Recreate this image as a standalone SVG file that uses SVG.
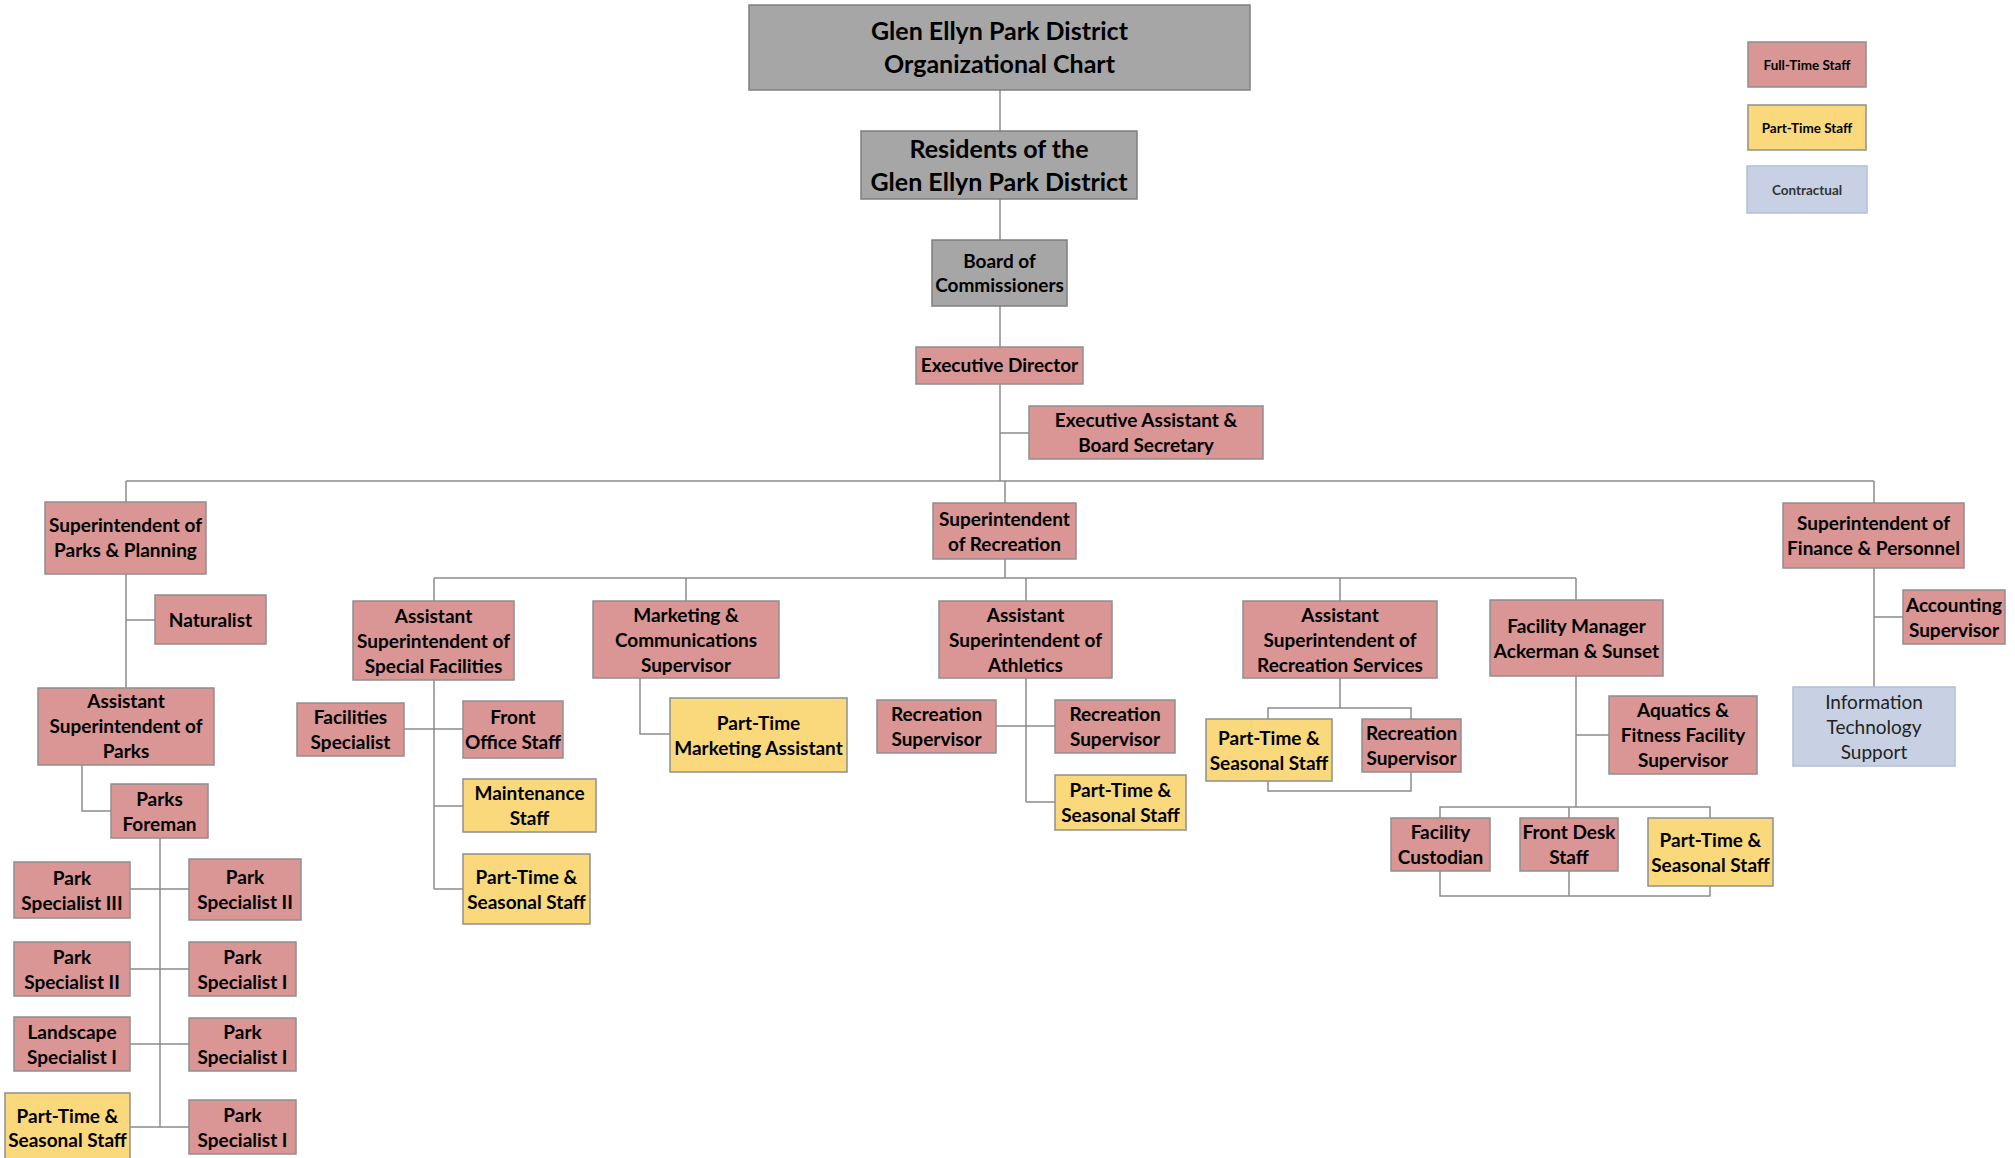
<svg xmlns="http://www.w3.org/2000/svg" width="2015" height="1158" viewBox="0 0 2015 1158">
<style>
.ft{fill:#d99694;stroke:#8f8f8f;stroke-width:1.5}
.pt{fill:#fad97c;stroke:#8f8f8f;stroke-width:1.5}
.gr{fill:#a6a6a6;stroke:#7f7f7f;stroke-width:1.5}
.ct{fill:#c7d1e3;stroke:#b3bfd3;stroke-width:1.5}
.t{font-family:Lato,"Liberation Sans",sans-serif;font-weight:bold;font-size:19px;fill:#000;text-anchor:middle}
.big{font-size:25px}
.sm{font-size:13.5px}
.cn{font-weight:normal;fill:#222}
.cl{fill:#333}
.c{fill:none;stroke:#8c8c8c;stroke-width:1.5}
</style>
<rect width="2015" height="1158" fill="#fff"/>
<g id="connectors" class="c">
<path d="M1000 90V481M1000 433H1029M126 481H1874M126 481V688M126 620H155M82 765V811H111M160 838V1127M130 889H189M130 969H189M130 1044H189M130 1127H189"/>
<path d="M1005 481V578M434 578H1576M434 578V889M404 729H463M434 806H463M434 889H463M686 578V601M640 678V734H670M1026 578V802M996 726H1055M1026 802H1055M1340 578V708M1576 578V807M1576 735H1609M1569 807V896M1874 481V687M1874 617H1903"/>
<rect x="1268" y="708" width="143" height="83"/>
<rect x="1440" y="807" width="270" height="89"/>
</g>
<g id="legend-ft"><rect class="ft" x="1748" y="42" width="118" height="45"/><text class="t sm" x="1807" y="69.5">Full-Time Staff</text></g>
<g id="legend-pt"><rect class="pt" x="1748" y="105" width="118" height="45"/><text class="t sm" x="1807" y="132.5">Part-Time Staff</text></g>
<g id="legend-ct"><rect class="ct" x="1747" y="166" width="120" height="47"/><text class="t sm cl" x="1807" y="194.5">Contractual</text></g>
<g id="title"><rect class="gr" x="749" y="5" width="501" height="85"/><text class="t big" x="999.5" y="40">Glen Ellyn Park District<tspan x="999.5" y="73">Organizational Chart</tspan></text></g>
<g id="residents"><rect class="gr" x="861" y="131" width="276" height="68"/><text class="t big" x="999" y="158">Residents of the<tspan x="999" y="191">Glen Ellyn Park District</tspan></text></g>
<g id="board"><rect class="gr" x="932" y="240" width="135" height="66"/><text class="t" x="999.5" y="268">Board of<tspan x="999.5" y="292">Commissioners</tspan></text></g>
<g id="exec-director"><rect class="ft" x="916" y="347" width="167" height="37"/><text class="t" x="999.5" y="372">Executive Director</text></g>
<g id="exec-assistant"><rect class="ft" x="1029" y="406" width="234" height="53"/><text class="t" x="1146" y="427">Executive Assistant &amp;<tspan x="1146" y="452">Board Secretary</tspan></text></g>
<g id="supt-parks"><rect class="ft" x="45" y="502" width="161" height="72"/><text class="t" x="125.5" y="532">Superintendent of<tspan x="125.5" y="557">Parks &amp; Planning</tspan></text></g>
<g id="naturalist"><rect class="ft" x="155" y="595" width="111" height="49"/><text class="t" x="210.5" y="627">Naturalist</text></g>
<g id="asst-supt-parks"><rect class="ft" x="38" y="688" width="176" height="77"/><text class="t" x="126" y="708">Assistant<tspan x="126" y="733">Superintendent of</tspan><tspan x="126" y="758">Parks</tspan></text></g>
<g id="parks-foreman"><rect class="ft" x="111" y="784" width="97" height="54"/><text class="t" x="159.5" y="806">Parks<tspan x="159.5" y="831">Foreman</tspan></text></g>
<g id="ps3"><rect class="ft" x="14" y="862" width="116" height="56"/><text class="t" x="72" y="885">Park<tspan x="72" y="910">Specialist III</tspan></text></g>
<g id="ps2-r"><rect class="ft" x="189" y="859" width="112" height="61"/><text class="t" x="245" y="884">Park<tspan x="245" y="909">Specialist II</tspan></text></g>
<g id="ps2-l"><rect class="ft" x="14" y="942" width="116" height="54"/><text class="t" x="72" y="963.5">Park<tspan x="72" y="988.5">Specialist II</tspan></text></g>
<g id="ps1-a"><rect class="ft" x="189" y="942" width="107" height="54"/><text class="t" x="242.5" y="963.5">Park<tspan x="242.5" y="988.5">Specialist I</tspan></text></g>
<g id="landscape"><rect class="ft" x="14" y="1017" width="116" height="54"/><text class="t" x="72" y="1038.5">Landscape<tspan x="72" y="1063.5">Specialist I</tspan></text></g>
<g id="ps1-b"><rect class="ft" x="189" y="1018" width="107" height="53"/><text class="t" x="242.5" y="1039">Park<tspan x="242.5" y="1064">Specialist I</tspan></text></g>
<g id="pts-parks"><rect class="pt" x="5" y="1093" width="125" height="70"/><text class="t" x="67.5" y="1123">Part-Time &amp;<tspan x="67.5" y="1147">Seasonal Staff</tspan></text></g>
<g id="ps1-c"><rect class="ft" x="189" y="1100" width="107" height="54"/><text class="t" x="242.5" y="1121.5">Park<tspan x="242.5" y="1146.5">Specialist I</tspan></text></g>
<g id="supt-rec"><rect class="ft" x="933" y="503" width="143" height="56"/><text class="t" x="1004.5" y="526">Superintendent<tspan x="1004.5" y="551">of Recreation</tspan></text></g>
<g id="asst-supt-sf"><rect class="ft" x="353" y="601" width="161" height="79"/><text class="t" x="433.5" y="622.5">Assistant<tspan x="433.5" y="647.5">Superintendent of</tspan><tspan x="433.5" y="672.5">Special Facilities</tspan></text></g>
<g id="facilities-specialist"><rect class="ft" x="297" y="703" width="107" height="53"/><text class="t" x="350.5" y="724">Facilities<tspan x="350.5" y="749">Specialist</tspan></text></g>
<g id="front-office"><rect class="ft" x="463" y="701" width="100" height="57"/><text class="t" x="513" y="724">Front<tspan x="513" y="749">Office Staff</tspan></text></g>
<g id="maintenance"><rect class="pt" x="463" y="779" width="133" height="53"/><text class="t" x="529.5" y="800">Maintenance<tspan x="529.5" y="825">Staff</tspan></text></g>
<g id="pts-sf"><rect class="pt" x="463" y="854" width="127" height="70"/><text class="t" x="526.5" y="883.5">Part-Time &amp;<tspan x="526.5" y="908.5">Seasonal Staff</tspan></text></g>
<g id="marketing"><rect class="ft" x="593" y="601" width="186" height="77"/><text class="t" x="686" y="621.5">Marketing &amp;<tspan x="686" y="646.5">Communications</tspan><tspan x="686" y="671.5">Supervisor</tspan></text></g>
<g id="pt-marketing"><rect class="pt" x="670" y="698" width="177" height="74"/><text class="t" x="758.5" y="729.5">Part-Time<tspan x="758.5" y="754.5">Marketing Assistant</tspan></text></g>
<g id="asst-supt-ath"><rect class="ft" x="939" y="601" width="173" height="77"/><text class="t" x="1025.5" y="621.5">Assistant<tspan x="1025.5" y="646.5">Superintendent of</tspan><tspan x="1025.5" y="671.5">Athletics</tspan></text></g>
<g id="rec-sup-a"><rect class="ft" x="877" y="700" width="119" height="53"/><text class="t" x="936.5" y="721">Recreation<tspan x="936.5" y="746">Supervisor</tspan></text></g>
<g id="rec-sup-b"><rect class="ft" x="1055" y="700" width="120" height="53"/><text class="t" x="1115" y="721">Recreation<tspan x="1115" y="746">Supervisor</tspan></text></g>
<g id="pts-ath"><rect class="pt" x="1055" y="775" width="131" height="55"/><text class="t" x="1120.5" y="797">Part-Time &amp;<tspan x="1120.5" y="822">Seasonal Staff</tspan></text></g>
<g id="asst-supt-rs"><rect class="ft" x="1243" y="601" width="194" height="77"/><text class="t" x="1340" y="621.5">Assistant<tspan x="1340" y="646.5">Superintendent of</tspan><tspan x="1340" y="671.5">Recreation Services</tspan></text></g>
<g id="pts-rs"><rect class="pt" x="1206" y="719" width="126" height="62"/><text class="t" x="1269" y="744.5">Part-Time &amp;<tspan x="1269" y="769.5">Seasonal Staff</tspan></text></g>
<g id="rec-sup-c"><rect class="ft" x="1362" y="719" width="99" height="53"/><text class="t" x="1411.5" y="740">Recreation<tspan x="1411.5" y="765">Supervisor</tspan></text></g>
<g id="facility-manager"><rect class="ft" x="1490" y="600" width="173" height="76"/><text class="t" x="1576.5" y="632.5">Facility Manager<tspan x="1576.5" y="657.5">Ackerman &amp; Sunset</tspan></text></g>
<g id="aquatics"><rect class="ft" x="1609" y="696" width="148" height="78"/><text class="t" x="1683" y="717">Aquatics &amp;<tspan x="1683" y="742">Fitness Facility</tspan><tspan x="1683" y="767">Supervisor</tspan></text></g>
<g id="facility-custodian"><rect class="ft" x="1391" y="818" width="99" height="53"/><text class="t" x="1440.5" y="839">Facility<tspan x="1440.5" y="864">Custodian</tspan></text></g>
<g id="front-desk"><rect class="ft" x="1520" y="818" width="98" height="53"/><text class="t" x="1569" y="839">Front Desk<tspan x="1569" y="864">Staff</tspan></text></g>
<g id="pts-fm"><rect class="pt" x="1648" y="818" width="125" height="68"/><text class="t" x="1710.5" y="846.5">Part-Time &amp;<tspan x="1710.5" y="871.5">Seasonal Staff</tspan></text></g>
<g id="supt-finance"><rect class="ft" x="1783" y="503" width="181" height="65"/><text class="t" x="1873.5" y="530">Superintendent of<tspan x="1873.5" y="555">Finance &amp; Personnel</tspan></text></g>
<g id="accounting"><rect class="ft" x="1903" y="590" width="102" height="54"/><text class="t" x="1954" y="611.5">Accounting<tspan x="1954" y="636.5">Supervisor</tspan></text></g>
<g id="it-support"><rect class="ct" x="1793" y="687" width="162" height="79"/><text class="t cn" x="1874" y="708.5">Information<tspan x="1874" y="733.5">Technology</tspan><tspan x="1874" y="758.5">Support</tspan></text></g>
</svg>
